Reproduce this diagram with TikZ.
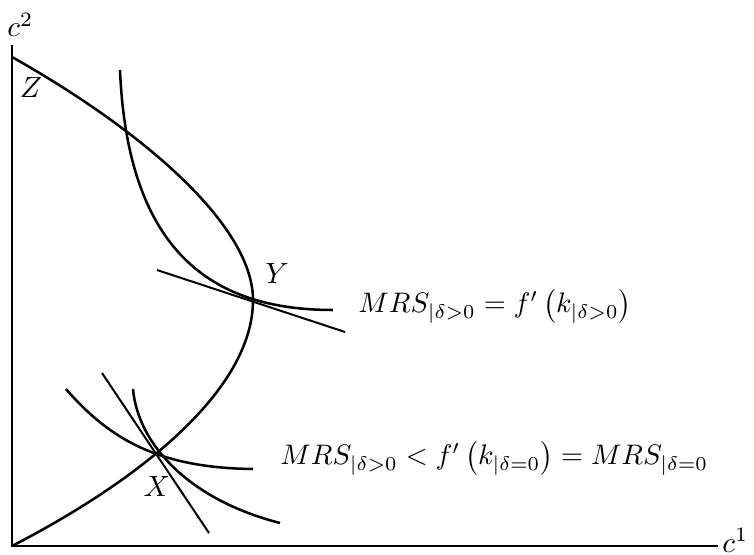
\documentclass[tikz,border=0pt]{standalone}
\usepackage{amsmath}
\usepackage{graphicx}
\newcommand{\lblscale}[1]{\scalebox{1.33}{#1}}
\newcommand{\frmscale}[1]{\scalebox{1.285}{#1}}
\begin{document}
\begin{tikzpicture}[x=0.455pt,y=-0.455pt,
  axis/.style={line width=1.3pt},
  crv/.style={line width=1.15pt},
  tan/.style={line width=0.9pt},
  lbl/.style={inner sep=0pt},
  frm/.style={inner sep=0pt,anchor=base west}]
\useasboundingbox (0,0) rectangle (754,555);
% axes
\coordinate (O) at (12,546);
\coordinate (top) at (12,45);
\coordinate (right) at (718,546);
\draw[axis] (top) -- (O) -- (right);
\node[lbl,anchor=base west] (c2) at (7,37) {\lblscale{$c^2$}};
\node[lbl,anchor=base west] (c1) at (722,552) {\lblscale{$c^1$}};
% frontier
\coordinate (Zp) at (12,57);
\coordinate (Yp) at (253,300);
\coordinate (Xp) at (158,457);
\draw[crv] (Zp) .. controls (150,135) and (253,228) .. (Yp)
           .. controls (253,390) and (140,480) .. (O);
% upper indifference curve and tangent
\coordinate (u1) at (120,70);
\coordinate (u2) at (333,310);
\draw[crv] (u1) .. controls (128,260) and (220,310) .. (u2);
\coordinate (t1) at (157,270);
\coordinate (t2) at (345,332);
\draw[tan] (t1) -- (t2);
% lower curves and tangent
\coordinate (a1) at (66,389);
\coordinate (a2) at (253,469);
\draw[crv] (a1) .. controls (110,440) and (160,468) .. (a2);
\coordinate (b1) at (133,389);
\coordinate (b2) at (280,523);
\draw[crv] (b1) .. controls (138,445) and (190,500) .. (b2);
\coordinate (s1) at (102,373);
\coordinate (s2) at (209,533);
\draw[tan] (s1) -- (s2);
% labels
\node[lbl] (Z) at (31,88) {\lblscale{$Z$}};
\node[lbl] (Y) at (277,274) {\lblscale{$Y$}};
\node[lbl] (X) at (157,487) {\lblscale{$X$}};
\node[frm] (m1) at (358,313) {\frmscale{$MRS_{|\delta>0}=f'\left(k_{|\delta>0}\right)$}};
\node[frm] (m2) at (280,465) {\frmscale{$MRS_{|\delta>0}<f'\left(k_{|\delta=0}\right)=MRS_{|\delta=0}$}};
\end{tikzpicture}
\end{document}
